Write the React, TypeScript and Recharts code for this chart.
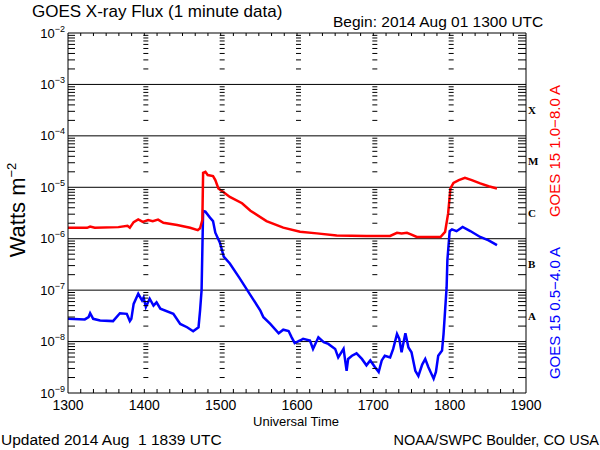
import React from 'react';
import { ComposedChart, Line, Scatter, XAxis, YAxis, ReferenceLine } from 'recharts';

// GOES 15 1.0-8.0 A channel: [hour (UT, decimal), flux W/m^2]
const redSeries: [number, number][] = [
  [13.0, 1.63e-6], [13.25, 1.63e-6], [13.29, 1.72e-6], [13.35, 1.63e-6], [13.66, 1.68e-6],
  [13.78, 1.78e-6], [13.81, 1.64e-6], [13.86, 2.1e-6], [13.92, 2.37e-6], [13.98, 2.13e-6],
  [14.05, 2.3e-6], [14.11, 2.2e-6], [14.18, 2.35e-6], [14.25, 2.04e-6], [14.43, 1.84e-6],
  [14.6, 1.63e-6], [14.7, 1.47e-6], [14.73, 1.6e-6], [14.76, 2.3e-6], [14.77, 1.91e-5],
  [14.8, 2.0e-5], [14.83, 1.73e-5], [14.9, 1.65e-5], [14.93, 1.38e-5], [14.97, 9.5e-6],
  [15.03, 8.2e-6], [15.12, 6.5e-6], [15.28, 4.9e-6], [15.39, 3.5e-6], [15.6, 2.2e-6],
  [15.82, 1.64e-6], [16.04, 1.37e-6], [16.26, 1.27e-6], [16.52, 1.16e-6], [16.91, 1.13e-6],
  [17.22, 1.13e-6], [17.31, 1.3e-6], [17.37, 1.27e-6], [17.44, 1.3e-6], [17.5, 1.2e-6],
  [17.57, 1.08e-6], [17.88, 1.08e-6], [17.94, 1.36e-6], [17.98, 3.1e-6], [18.01, 9.5e-6],
  [18.05, 1.22e-5], [18.12, 1.38e-5], [18.2, 1.53e-5], [18.29, 1.38e-5], [18.4, 1.19e-5],
  [18.51, 1.05e-5], [18.62, 9.5e-6],
];

// GOES 15 0.5-4.0 A channel
const blueSeries: [number, number][] = [
  [13.0, 2.77e-8], [13.22, 2.7e-8], [13.27, 3.0e-8], [13.29, 3.56e-8], [13.33, 2.77e-8],
  [13.42, 2.57e-8], [13.59, 2.5e-8], [13.68, 3.56e-8], [13.77, 3.46e-8], [13.81, 2.5e-8],
  [13.83, 2.77e-8], [13.86, 5.4e-8], [13.92, 8.5e-8], [13.97, 6.3e-8], [13.99, 7.2e-8],
  [14.02, 4.7e-8], [14.07, 6.8e-8], [14.12, 5.0e-8], [14.16, 5.8e-8], [14.21, 4.35e-8],
  [14.38, 3.46e-8], [14.47, 2.2e-8], [14.56, 1.9e-8], [14.64, 1.59e-8], [14.71, 1.9e-8],
  [14.73, 4.0e-8], [14.75, 1.0e-7], [14.77, 3.46e-6], [14.8, 3.36e-6], [14.86, 2.57e-6],
  [14.9, 2.2e-6], [14.93, 1.31e-6], [14.99, 8.4e-7], [15.04, 4.5e-7], [15.12, 3.3e-7],
  [15.25, 1.69e-7], [15.39, 8.0e-8], [15.52, 4.0e-8], [15.56, 2.98e-8], [15.65, 2.2e-8],
  [15.76, 1.45e-8], [15.82, 1.7e-8], [15.89, 1.6e-8], [15.93, 1.21e-8], [15.97, 9.3e-9],
  [16.04, 1.05e-8], [16.08, 1.13e-8], [16.17, 1.05e-8], [16.21, 7.2e-9], [16.28, 1.21e-8],
  [16.35, 9.7e-9], [16.41, 9.0e-9], [16.5, 7.2e-9], [16.54, 4.9e-9], [16.61, 7.2e-9],
  [16.65, 2.7e-9], [16.67, 4.6e-9], [16.72, 5.3e-9], [16.78, 5.9e-9], [16.85, 4.6e-9],
  [16.91, 3.45e-9], [16.96, 4.3e-9], [17.02, 3.2e-9], [17.07, 2.56e-9], [17.11, 4.3e-9],
  [17.15, 5.3e-9], [17.22, 4.9e-9], [17.26, 7.2e-9], [17.31, 1.41e-8], [17.34, 1.13e-8],
  [17.37, 6.2e-9], [17.42, 1.45e-8], [17.46, 7.7e-9], [17.5, 6.2e-9], [17.55, 2.7e-9],
  [17.59, 2.14e-9], [17.64, 3.57e-9], [17.68, 4.6e-9], [17.72, 3.2e-9], [17.79, 1.9e-9],
  [17.82, 2.56e-9], [17.85, 5.3e-9], [17.9, 6.7e-9], [17.92, 1.41e-8], [17.96, 1.13e-7],
  [17.97, 3.8e-7], [18.0, 1.4e-6], [18.03, 1.52e-6], [18.09, 1.4e-6], [18.17, 1.7e-6],
  [18.27, 1.41e-6], [18.4, 1.08e-6], [18.51, 9.3e-7], [18.62, 7.5e-7],
];

const hourTicks = [13, 14, 15, 16, 17, 18, 19];
const innerHours = [14, 15, 16, 17, 18];
const minuteSteps = [0, 10, 20, 30, 40, 50];
const decadeTicks = [1e-9, 1e-8, 1e-7, 1e-6, 1e-5, 1e-4, 1e-3, 1e-2];
const gridDecades = [1e-8, 1e-7, 1e-6, 1e-5, 1e-4, 1e-3];
const decadeExponents = [-9, -8, -7, -6, -5, -4, -3];
const minorMantissas = [2, 3, 4, 5, 6, 7, 8, 9];
const classLetters = ['A', 'B', 'C', 'M', 'X'];
const classMids = [3.162e-8, 3.162e-7, 3.162e-6, 3.162e-5, 3.162e-4];

const FONT = '"Liberation Sans", Arial, sans-serif';

const redData = redSeries.map(([t, f]) => ({ t, f }));
const blueData = blueSeries.map(([t, f]) => ({ t, f }));
const minorValues = decadeExponents.flatMap((e) => minorMantissas.map((m) => m * Math.pow(10, e)));
const leftColumnMarks = minorValues.map((f) => ({ t: 13, f }));
const hourColumnMarks = innerHours.flatMap((h) => minorValues.map((f) => ({ t: h, f })));
const rightColumnMarks = minorValues.map((f) => ({ t: 19, f }));
const minuteMarks = [13, 14, 15, 16, 17, 18]
  .flatMap((h) => minuteSteps.map((m) => h + m / 60))
  .filter((t) => t > 13);
const bottomMarks = minuteMarks.map((t) => ({ t, f: 1e-9 }));
const topMarks = minuteMarks.map((t) => ({ t, f: 1e-2 }));

const DecadeTick = (props: any) => {
  const { x, y, payload } = props;
  const e = Math.round(Math.log10(payload.value));
  return (
    <text x={x} y={y} textAnchor="end" fontFamily={FONT} fill="#000">
      <tspan fontSize={13} dy="0.35em">10</tspan>
      <tspan fontSize={9} dy={-6}>{'\u2212' + String(-e)}</tspan>
    </text>
  );
};

const mark = (dx1: number, dx2: number, dy1: number, dy2: number) => (p: any) => (
  <line x1={p.cx + dx1} x2={p.cx + dx2} y1={p.cy + dy1} y2={p.cy + dy2} stroke="#000" strokeWidth={1} />
);

export default function App() {
  return (
    <div style={{ position: 'absolute', left: 0, top: 0, width: 600, height: 450, background: '#fff' }}>
      <ComposedChart width={600} height={450} margin={{ top: 33, right: 54, bottom: 27, left: 8 }}>
        <XAxis
          xAxisId="x"
          dataKey="t"
          type="number"
          domain={[13, 19]}
          ticks={hourTicks}
          allowDataOverflow
          tickFormatter={(h: number) => String(h * 100)}
          tickLine={false}
          tickSize={5}
          tickMargin={2}
          axisLine={{ stroke: '#000' }}
          tick={{ fill: '#000', fontSize: 14, fontFamily: FONT }}
          height={30}
        />
        <YAxis
          yAxisId="L"
          dataKey="f"
          type="number"
          scale="log"
          domain={[1e-9, 1e-2]}
          allowDataOverflow
          ticks={decadeTicks}
          tick={<DecadeTick />}
          tickLine={false}
          tickSize={3}
          tickMargin={0}
          axisLine={{ stroke: '#000' }}
          width={60}
        />
        <YAxis
          yAxisId="R"
          orientation="right"
          type="number"
          scale="log"
          domain={[1e-9, 1e-2]}
          allowDataOverflow
          ticks={classMids}
          tickFormatter={(v: number) => {
            const i = classMids.findIndex((m) => Math.abs(Math.log10(m / v)) < 0.01);
            return i >= 0 ? classLetters[i] : '';
          }}
          tickLine={false}
          tickSize={2}
          tickMargin={0}
          axisLine={{ stroke: '#000' }}
          tick={{ fill: '#000', fontSize: 11, fontWeight: 'bold', fontFamily: '"Liberation Serif", serif' }}
          width={20}
        />
        {gridDecades.map((d) => (
          <ReferenceLine key={d} xAxisId="x" yAxisId="L" y={d} stroke="#000" strokeWidth={1} />
        ))}
        <ReferenceLine xAxisId="x" yAxisId="L" y={1e-2} stroke="#000" strokeWidth={1} />
        <Scatter xAxisId="x" yAxisId="L" data={leftColumnMarks} dataKey="f" isAnimationActive={false} shape={mark(0, 7, 0, 0)} />
        <Scatter xAxisId="x" yAxisId="L" data={hourColumnMarks} dataKey="f" isAnimationActive={false} shape={mark(-1, 4, 0, 0)} />
        <Scatter xAxisId="x" yAxisId="L" data={rightColumnMarks} dataKey="f" isAnimationActive={false} shape={mark(-8, 0, 0, 0)} />
        <Scatter xAxisId="x" yAxisId="L" data={bottomMarks} dataKey="f" isAnimationActive={false} shape={mark(0, 0, -4, 0)} />
        <Scatter xAxisId="x" yAxisId="L" data={topMarks} dataKey="f" isAnimationActive={false} shape={mark(0, 0, 0, 3)} />
        <Line
          xAxisId="x"
          yAxisId="L"
          data={blueData}
          dataKey="f"
          type="linear"
          stroke="#0000ff"
          strokeWidth={2.5}
          dot={false}
          isAnimationActive={false}
        />
        <Line
          xAxisId="x"
          yAxisId="L"
          data={redData}
          dataKey="f"
          type="linear"
          stroke="#ff0000"
          strokeWidth={2.5}
          dot={false}
          isAnimationActive={false}
        />
      </ComposedChart>
      <svg
        width={600}
        height={450}
        style={{ position: 'absolute', left: 0, top: 0, pointerEvents: 'none' }}
        fontFamily={FONT}
      >
        <text x={32} y={17} fontSize={17} fill="#000">GOES X-ray Flux (1 minute data)</text>
        <text x={333} y={27} fontSize={15.5} fill="#000">Begin: 2014 Aug 01 1300 UTC</text>
        <text x={296} y={426} fontSize={13} textAnchor="middle" fill="#000">Universal Time</text>
        <text x={1} y={445} fontSize={15.5} fill="#000" style={{ whiteSpace: 'pre' }}>Updated 2014 Aug  1 1839 UTC</text>
        <text x={599} y={445} fontSize={14.5} textAnchor="end" fill="#000">NOAA/SWPC Boulder, CO USA</text>
        <text x={25} y={210} fontSize={22} textAnchor="middle" fill="#000" transform="rotate(-90 25 210)">
          Watts m<tspan fontSize={13} dy={-9}>{'\u22122'}</tspan>
        </text>
        <text x={560} y={151} fontSize={15} textAnchor="middle" fill="#ff0000" transform="rotate(-90 560 151)">
          GOES 15 1.0{'\u2212'}8.0 A
        </text>
        <text x={560} y={313} fontSize={15} textAnchor="middle" fill="#0000ff" transform="rotate(-90 560 313)">
          GOES 15 0.5{'\u2212'}4.0 A
        </text>
      </svg>
    </div>
  );
}
